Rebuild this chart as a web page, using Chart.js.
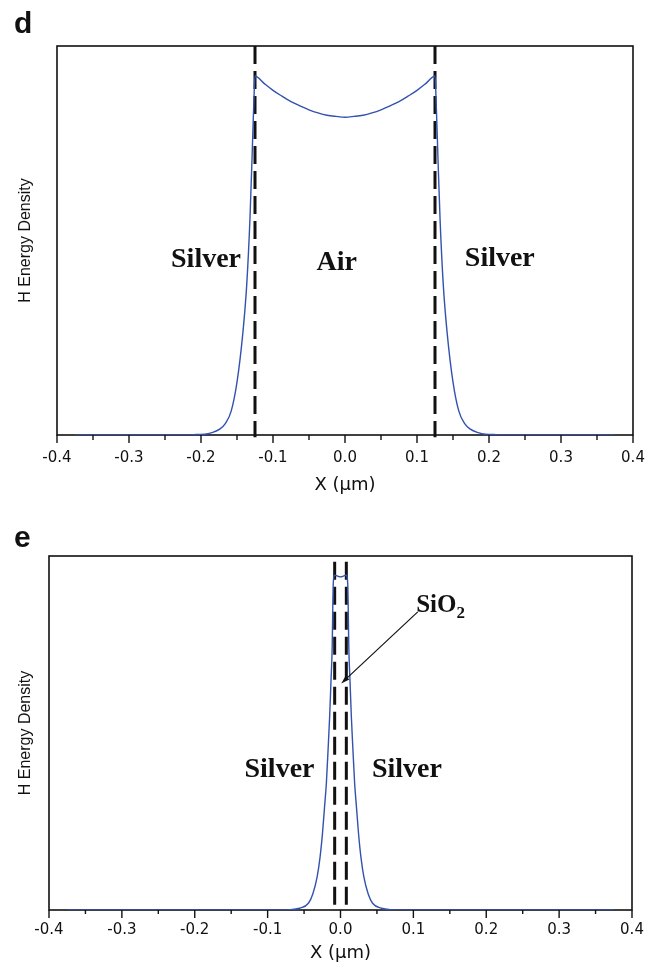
<!DOCTYPE html>
<html>
<head>
<meta charset="utf-8">
<script src="https://cdn.jsdelivr.net/npm/chart.js@4/dist/chart.umd.min.js"></script>
<style>
  body { margin: 0; background: #fff; }
  canvas { position: absolute; left: 0; }
</style>
</head>
<body>
<canvas id="panelD" width="649" height="500" style="top:0"></canvas>
<canvas id="panelE" width="649" height="467" style="top:500px"></canvas>
<script>
// panel d: air gap between two silver layers (x in um)
let xD = [-0.375, -0.3, -0.25, -0.21, -0.195, -0.185, -0.174, -0.166, -0.158, -0.15,
  -0.142, -0.1365, -0.132, -0.1288, -0.1262, -0.125,
  -0.1125, -0.1, -0.0875, -0.075, -0.0625, -0.05, -0.0375, -0.025, -0.0125, 0,
  0.0125, 0.025, 0.0375, 0.05, 0.0625, 0.075, 0.0875, 0.1, 0.1125,
  0.125, 0.1262, 0.1288, 0.132, 0.1365, 0.142,
  0.15, 0.158, 0.166, 0.174, 0.185, 0.195, 0.21, 0.25, 0.3, 0.375]
let hD = [0, 0, 0, 0.001, 0.002, 0.006, 0.015, 0.03, 0.062, 0.136,
  0.26, 0.386, 0.556, 0.73, 0.879, 0.923,
  0.904, 0.886, 0.871, 0.857, 0.846, 0.836, 0.828, 0.822, 0.819, 0.817,
  0.819, 0.822, 0.828, 0.836, 0.846, 0.857, 0.871, 0.886, 0.904,
  0.923, 0.879, 0.73, 0.556, 0.386, 0.26,
  0.136, 0.062, 0.03, 0.015, 0.006, 0.002, 0.001, 0, 0, 0]

// panel e: thin SiO2 gap between silver
let xE = [-0.375, -0.2, -0.1, -0.07, -0.056, -0.044, -0.038, -0.032, -0.028, -0.0247,
  -0.022, -0.0194, -0.017, -0.0149, -0.013, -0.0115, -0.0099, -0.008, -0.004, 0,
  0.004, 0.008, 0.0099, 0.0115, 0.013, 0.0149, 0.017, 0.0194, 0.022,
  0.0247, 0.028, 0.032, 0.038, 0.044, 0.056, 0.07, 0.1, 0.2, 0.375]
let hE = [0, 0, 0, 0.001, 0.005, 0.019, 0.045, 0.094, 0.15, 0.217,
  0.288, 0.358, 0.455, 0.546, 0.65, 0.734, 0.923, 0.946, 0.943, 0.941,
  0.943, 0.946, 0.923, 0.734, 0.65, 0.546, 0.455, 0.358, 0.288,
  0.217, 0.15, 0.094, 0.045, 0.019, 0.005, 0.001, 0, 0, 0]

// interfaces (dashed lines)
let wallsD = [-0.125, 0.125]
let wallsE = [-0.008, 0.008]

let xTicks = [-0.4, -0.35, -0.3, -0.25, -0.2, -0.15, -0.1, -0.05, 0,
  0.05, 0.1, 0.15, 0.2, 0.25, 0.3, 0.35, 0.4]

let ink = '#111'
let curveColor = '#3352b0'

let decor = {
  id: 'decor',
  beforeDatasetsDraw(chart, args, o) {
    let ctx = chart.ctx
    let a = chart.chartArea
    let xs = chart.scales.x
    ctx.save()
    ctx.strokeStyle = ink
    ctx.lineWidth = 1.6
    ctx.strokeRect(a.left, a.top, a.right - a.left, a.bottom - a.top)
    ctx.lineWidth = 1.4
    xs.ticks.forEach(function(t){
      let px = xs.getPixelForValue(t.value)
      let len = t.label ? o.major : o.minor
      ctx.beginPath()
      ctx.moveTo(px, a.bottom)
      ctx.lineTo(px, a.bottom + len)
      ctx.stroke()
    })
    ctx.restore()
  },
  afterDraw(chart, args, o) {
    let ctx = chart.ctx
    let xs = chart.scales.x
    let ys = chart.scales.y
    ctx.save()
    ctx.fillStyle = ink
    // panel letter
    ctx.font = 'bold 30px "Liberation Sans"'
    ctx.textAlign = 'left'
    ctx.textBaseline = 'alphabetic'
    ctx.fillText(o.letter, 14, o.letterY)

    ctx.font = 'bold 28px "Liberation Serif"'
    ctx.textAlign = 'center'
    o.texts.forEach(function(t){
      ctx.fillText(t.text, xs.getPixelForValue(t.x), ys.getPixelForValue(t.y))
    })

    if (o.sio2) {
      let px = xs.getPixelForValue(o.sio2.x)
      let py = ys.getPixelForValue(o.sio2.y)
      ctx.textAlign = 'left'
      ctx.font = 'bold 25px "Liberation Serif"'
      ctx.fillText('SiO', px, py)
      let w = ctx.measureText('SiO').width
      ctx.font = 'bold 17px "Liberation Serif"'
      ctx.fillText('2', px + w, py + 6)

      let x1 = xs.getPixelForValue(o.arrow.from[0])
      let y1 = ys.getPixelForValue(o.arrow.from[1])
      let x2 = xs.getPixelForValue(o.arrow.to[0])
      let y2 = ys.getPixelForValue(o.arrow.to[1])
      let ang = Math.atan2(y2 - y1, x2 - x1)
      ctx.strokeStyle = ink
      ctx.lineWidth = 1.2
      ctx.beginPath()
      ctx.moveTo(x1, y1)
      ctx.lineTo(x2 - 6 * Math.cos(ang), y2 - 6 * Math.sin(ang))
      ctx.stroke()
      ctx.beginPath()
      ctx.moveTo(x2, y2)
      ctx.lineTo(x2 - 9 * Math.cos(ang - 0.3), y2 - 9 * Math.sin(ang - 0.3))
      ctx.lineTo(x2 - 9 * Math.cos(ang + 0.3), y2 - 9 * Math.sin(ang + 0.3))
      ctx.closePath()
      ctx.fill()
    }
    ctx.restore()
  }
}

function wallSets(walls, top, bottom) {
  return walls.map(function(w){
    return {
      data: [{x: w, y: top}, {x: w, y: bottom}],
      borderColor: ink,
      borderWidth: 3,
      borderDash: [18, 7],
      pointRadius: 0,
      clip: false
    }
  })
}

function makePanel(id, xs, hs, walls, wallTop, wallBottom, lay, deco) {
  let curve = {
    data: xs.map(function(x, i){ return {x: x, y: hs[i]} }),
    borderColor: curveColor,
    borderWidth: 1.4,
    pointRadius: 0,
    cubicInterpolationMode: 'monotone'
  }
  return new Chart(document.getElementById(id), {
    type: 'line',
    data: { datasets: [curve].concat(wallSets(walls, wallTop, wallBottom)) },
    options: {
      responsive: false,
      animation: false,
      events: [],
      layout: { autoPadding: false, padding: { left: 0, top: lay.top, right: lay.right, bottom: 0 } },
      plugins: { legend: { display: false }, tooltip: { enabled: false }, decor: deco },
      scales: {
        x: {
          type: 'linear',
          min: -0.4,
          max: 0.4,
          afterBuildTicks: function(s){ s.ticks = xTicks.map(function(v){ return {value: v} }) },
          afterFit: function(s){
            s.height = lay.xHeight
            s.paddingLeft = 0
            s.paddingRight = 0
          },
          grid: { display: false, drawTicks: false },
          border: { display: false },
          ticks: {
            color: ink,
            padding: lay.tickPad,
            maxRotation: 0,
            autoSkip: false,
            font: { family: 'DejaVu Sans', size: 15 },
            callback: function(v){
              if (Math.abs(v) < 1e-9) v = 0
              return Math.round(v * 100) % 10 === 0 ? v.toFixed(1) : ''
            }
          },
          title: {
            display: true,
            text: 'X (µm)',
            color: ink,
            font: { family: 'DejaVu Sans', size: 18 },
            padding: { top: 0, bottom: lay.titlePad }
          }
        },
        y: {
          min: 0,
          max: 1,
          afterFit: function(s){
            s.width = lay.yWidth
            s.paddingTop = 0
            s.paddingBottom = 0
          },
          grid: { display: false, drawTicks: false },
          border: { display: false },
          ticks: { display: false },
          title: {
            display: true,
            text: 'H Energy Density',
            color: ink,
            font: { family: 'Liberation Sans', size: 16 },
            padding: { top: 16, bottom: 0 }
          }
        }
      }
    },
    plugins: [decor]
  })
}

makePanel('panelD', xD, hD, wallsD, 1, -0.006,
  { top: 46, right: 16, xHeight: 65, yWidth: 57, tickPad: 14, titlePad: 4 },
  {
    letter: 'd', letterY: 33, major: 8, minor: 5,
    texts: [
      { text: 'Silver', x: -0.193, y: 0.433 },
      { text: 'Air', x: -0.0115, y: 0.424 },
      { text: 'Silver', x: 0.215, y: 0.434 }
    ]
  })

makePanel('panelE', xE, hE, wallsE, 0.984, 0.014,
  { top: 56, right: 17, xHeight: 57, yWidth: 49, tickPad: 11, titlePad: 2.5 },
  {
    letter: 'e', letterY: 47, major: 8, minor: 4,
    texts: [
      { text: 'Silver', x: -0.0837, y: 0.376 },
      { text: 'Silver', x: 0.0912, y: 0.376 }
    ],
    sio2: { x: 0.1038, y: 0.843 },
    arrow: { from: [0.106, 0.842], to: [0.001, 0.64] }
  })
</script>
</body>
</html>
